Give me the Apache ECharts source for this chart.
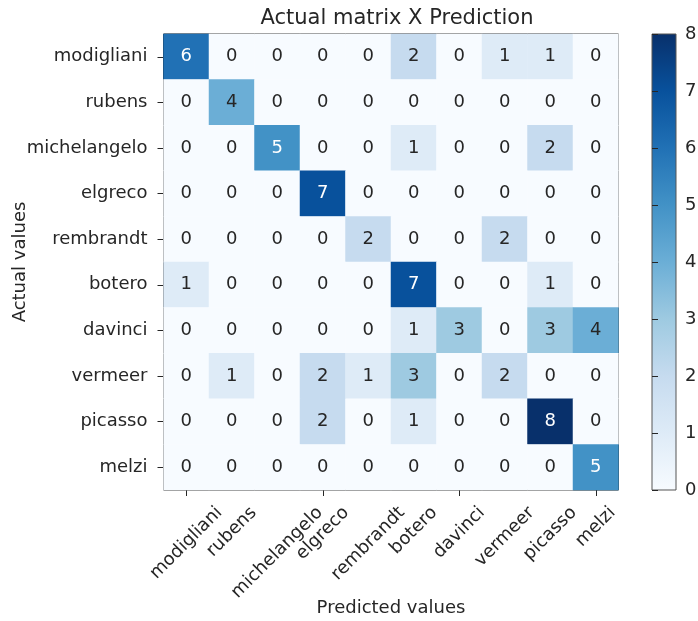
<!DOCTYPE html>
<html><head><meta charset="utf-8">
<script src="https://cdn.jsdelivr.net/npm/echarts@6/dist/echarts.min.js"></script>
<style>html,body{margin:0;padding:0;background:#fff}#c{width:698px;height:621px}</style>
</head><body><div id="c"></div>
<script>
const actualLabels = ['modigliani','rubens','michelangelo','elgreco','rembrandt','botero','davinci','vermeer','picasso','melzi'];
const predictedLabels = ['modigliani','rubens','michelangelo','elgreco','rembrandt','botero','davinci','vermeer','picasso','melzi'];
const matrix = [
  [6,0,0,0,0,2,0,1,1,0],
  [0,4,0,0,0,0,0,0,0,0],
  [0,0,5,0,0,1,0,0,2,0],
  [0,0,0,7,0,0,0,0,0,0],
  [0,0,0,0,2,0,0,2,0,0],
  [1,0,0,0,0,7,0,0,1,0],
  [0,0,0,0,0,1,3,0,3,4],
  [0,1,0,2,1,3,0,2,0,0],
  [0,0,0,2,0,1,0,0,8,0],
  [0,0,0,0,0,0,0,0,0,5]
];
const colorbarTicks = [0,1,2,3,4,5,6,7,8];
const blues = ['#f7fbff','#deebf7','#c6dbef','#9ecae1','#6baed6','#4292c6','#2171b5','#08519c','#08306b'];

const vmin = 0, vmax = 8;
const data = [];
matrix.forEach((row, r) => row.forEach((v, c) => data.push({
  value: [c, r, v],
  label: {color: v > vmax / 2 ? '#ffffff' : '#262626'}
})));

const textColor = '#262626';
const font = '"DejaVu Sans"';
const fs = 18;
const cssFont = fs + 'px ' + font;
const measureCtx = document.createElement('canvas').getContext('2d');
measureCtx.font = cssFont;
const lastRow = actualLabels.length - 1;

const chart = echarts.init(document.getElementById('c'));
chart.setOption({
  backgroundColor: '#fff',
  animation: false,
  textStyle: {fontFamily: font},
  title: {
    text: 'Actual matrix X Prediction',
    left: 392, top: 3, textAlign: 'center',
    textStyle: {fontFamily: font, fontSize: 21, fontWeight: 'normal', color: textColor}
  },
  grid: [
    {left: 163.5, top: 34, width: 455, height: 456, show: true, borderColor: '#111', borderWidth: 1,
     backgroundColor: 'transparent', containLabel: false, outerBoundsMode: 'none'},
    {left: 652, top: 34, width: 24, height: 456, show: true, borderColor: '#555', borderWidth: 1,
     containLabel: false, outerBoundsMode: 'none',
     backgroundColor: new echarts.graphic.LinearGradient(0, 1, 0, 0, blues.map((c, i) => ({offset: i / (blues.length - 1), color: c})))}
  ],
  xAxis: [
    {type: 'category', gridIndex: 0, data: predictedLabels, position: 'bottom',
     axisLine: {show: false}, splitLine: {show: false},
     axisTick: {show: true, alignWithLabel: true, length: 6, lineStyle: {color: textColor}},
     axisLabel: {show: false},
     name: 'Predicted values', nameLocation: 'middle', nameGap: 109, nameMoveOverlap: false,
     nameTextStyle: {fontSize: fs, color: textColor, fontFamily: font}},
    {type: 'value', gridIndex: 1, min: 0, max: 1, show: false}
  ],
  yAxis: [
    {type: 'category', gridIndex: 0, data: actualLabels, inverse: true,
     axisLine: {show: false}, splitLine: {show: false},
     axisTick: {show: true, alignWithLabel: true, length: 6, lineStyle: {color: textColor}},
     axisLabel: {fontSize: fs, color: textColor, interval: 0, margin: 16, fontFamily: font},
     name: 'Actual values', nameLocation: 'middle', nameGap: 134, nameRotate: 90, nameMoveOverlap: false,
     nameTextStyle: {fontSize: fs, color: textColor, fontFamily: font}},
    {type: 'value', gridIndex: 1, min: vmin, max: vmax, interval: 1, position: 'right',
     axisLine: {show: false}, splitLine: {show: false},
     axisTick: {show: true, length: 6, lineStyle: {color: textColor}},
     axisLabel: {fontSize: fs, color: textColor, margin: 9, fontFamily: font,
                 formatter: v => colorbarTicks.includes(v) ? String(v) : ''}}
  ],
  visualMap: {
    show: false, type: 'continuous', min: vmin, max: vmax, seriesIndex: 0, dimension: 2,
    inRange: {color: blues}
  },
  series: [{
    type: 'heatmap', xAxisIndex: 0, yAxisIndex: 0, data: data,
    itemStyle: {borderWidth: 0},
    label: {show: true, fontSize: fs, fontFamily: font, formatter: p => String(p.value[2])}
  }, {
    type: 'custom', xAxisIndex: 0, yAxisIndex: 0, clip: false, silent: true, z: 10,
    data: predictedLabels.map((n, i) => [i, lastRow]),
    renderItem: (params, api) => {
      const i = api.value(0);
      const txt = predictedLabels[i];
      const p = api.coord([i, lastRow]);
      const s = api.size([1, 1]);
      const bottom = p[1] + s[1] / 2;
      const w = measureCtx.measureText(txt).width;
      const h = fs * 1.17;
      const cy = bottom + 12.5 + (w + h) / (2 * Math.SQRT2);
      return {
        type: 'text', x: p[0], y: cy, rotation: Math.PI / 4,
        style: {text: txt, font: cssFont, fill: textColor, align: 'center', verticalAlign: 'middle'}
      };
    }
  }]
});
</script></body></html>
